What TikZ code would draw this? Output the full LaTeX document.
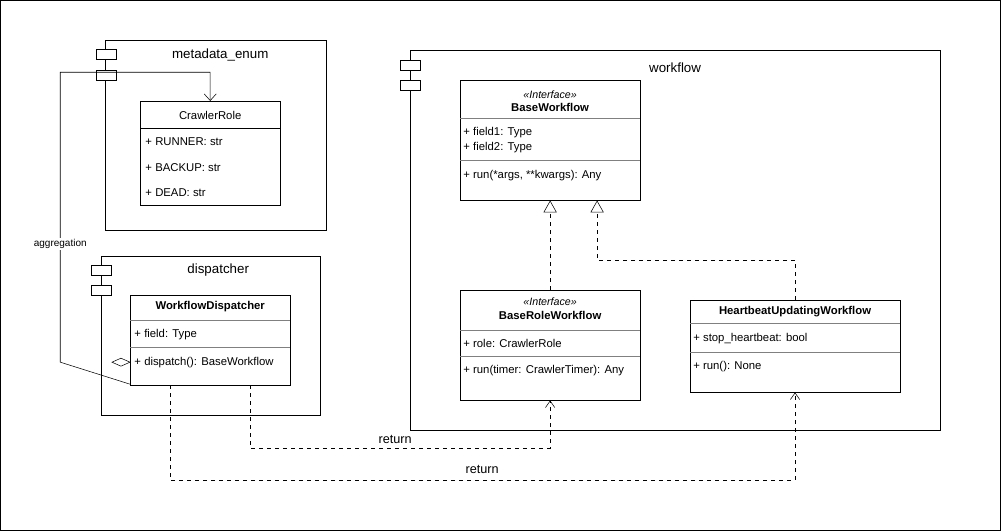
\documentclass[tikz,border=0pt]{standalone}
\usepackage{fontspec}
\setmainfont{Liberation Sans}
\usetikzlibrary{fit,arrows.meta,positioning}
\tikzset{
  box/.style = {draw, inner sep=0pt, thin},
  tab/.style = {draw, fill=white, inner sep=0pt, thin},
  txt/.style = {anchor=west, inner sep=0pt, font=\fontsize{8.5}{10}\selectfont},
  hd/.style = {inner sep=0pt, font=\fontsize{8.5}{10}\selectfont},
  dep/.style = {thin, dashed, -{Straight Barb[length=5pt,width=7pt]}},
  real/.style = {thin, dashed, -{Triangle[open,length=9pt,width=10pt]}},
}
\begin{document}
\begin{tikzpicture}[x=0.75pt,y=-0.75pt]
          % frame
          \draw [thin] (0,0) rectangle (1000,530);
          \useasboundingbox (0,0) rectangle (1001,531);

          % packages
          \node [box, fit={(105,40) (326,230)}] (pmeta) {};
          \node [tab, fit={(96,49) (116,59)}] (mt1) {};
          \node [tab, fit={(96,70) (116,80)}] (mt2) {};
          \node [hd, font=\fontsize{10}{12}\selectfont] (lmeta) at (220,55) {metadata\_enum};

          \node [box, fit={(101,256) (320,415)}] (pdisp) {};
          \node [tab, fit={(91,265) (111,275)}] (dt1) {};
          \node [tab, fit={(91,285) (111,295)}] (dt2) {};
          \node [hd, font=\fontsize{10}{12}\selectfont] (ldisp) at (218,270) {dispatcher};

          \node [box, fit={(410,50) (940,430)}] (pwork) {};
          \node [tab, fit={(400,60) (420,70)}] (wt1) {};
          \node [tab, fit={(400,80) (420,90)}] (wt2) {};
          \node [hd, font=\fontsize{10}{12}\selectfont] (lwork) at (675,67) {workflow};

          % CrawlerRole
          \node [box, fit={(140,101) (280,205)}] (role) {};
          \draw [thin] (140,128) -- (280,128);
          \node [hd] at (210,115) {CrawlerRole};
          \node [txt] at (145,141) {+ RUNNER: str};
          \node [txt] at (145,167) {+ BACKUP: str};
          \node [txt] at (145,192) {+ DEAD: str};

          % WorkflowDispatcher
          \node [box, fit={(130,295) (290,385)}] (disp) {};
          \draw [thin, gray] (130,320) -- (290,320) (130,347) -- (290,347);
          \node [hd, font=\bfseries\fontsize{8.5}{10}\selectfont] at (210,306) {WorkflowDispatcher};
          \node [txt] at (134,334) {+ field: Type};
          \node [txt] at (134,362) {+ dispatch(): BaseWorkflow};

          % BaseWorkflow
          \node [box, fit={(460,80) (640,200)}] (base) {};
          \draw [thin, gray] (460,118) -- (640,118) (460,160) -- (640,160);
          \node [hd, font=\itshape\fontsize{8}{10}\selectfont] at (550,94) {<<Interface>>};
          \node [hd, font=\bfseries\fontsize{8.5}{10}\selectfont] at (550,107) {BaseWorkflow};
          \node [txt] at (463,132) {+ field1: Type};
          \node [txt] at (463,147) {+ field2: Type};
          \node [txt] at (463,175) {+ run(*args, **kwargs): Any};

          % BaseRoleWorkflow
          \node [box, fit={(460,290) (640,400)}] (brole) {};
          \draw [thin, gray] (460,330) -- (640,330) (460,356) -- (640,356);
          \node [hd, font=\itshape\fontsize{8}{10}\selectfont] at (550,301) {<<Interface>>};
          \node [hd, font=\bfseries\fontsize{8.5}{10}\selectfont] at (550,315) {BaseRoleWorkflow};
          \node [txt] at (463,343) {+ role: CrawlerRole};
          \node [txt] at (463,370) {+ run(timer: CrawlerTimer): Any};

          % HeartbeatUpdatingWorkflow
          \node [box, fit={(690,300) (900,392)}] (beat) {};
          \draw [thin, gray] (690,323) -- (900,323) (690,352) -- (900,352);
          \node [hd, font=\bfseries\fontsize{8.5}{10}\selectfont] at (795,311) {HeartbeatUpdatingWorkflow};
          \node [txt] at (693,338) {+ stop\_heartbeat: bool};
          \node [txt] at (693,366) {+ run(): None};

          % aggregation
          \draw [thin, -{Straight Barb[length=5pt,width=9pt]}] ([yshift=0.75pt*(-362+340)]disp.west |- 0,362) -- (60,362) -- (60,72) -- (210,72) -- (role.north -| 210,0);
          \draw [thin, fill=white] (disp.west |- 0,362) -- ++(-9,-4) -- ++(-9,4) -- ++(9,4) -- cycle;
          \node [hd, fill=white, inner sep=1pt, font=\fontsize{7.5}{9}\selectfont] (lagg) at (60,244) {aggregation};

          % realizations
          \draw [real] (brole.north) -- (base.south);
          \draw [real] (beat.north) -- (795,260) -- (597,260) -- (base.south -| 597,0);

          % returns
          \draw [dep] (disp.south -| 250,0) -- (250,448) -- (550,448) -- (brole.south);
          \node [hd, font=\fontsize{9.5}{11}\selectfont] (lret1) at (395,439) {return};
          \draw [dep] (disp.south -| 170,0) -- (170,480) -- (795,480) -- (beat.south);
          \node [hd, font=\fontsize{9.5}{11}\selectfont] (lret2) at (482,469) {return};
\end{tikzpicture}
\end{document}
